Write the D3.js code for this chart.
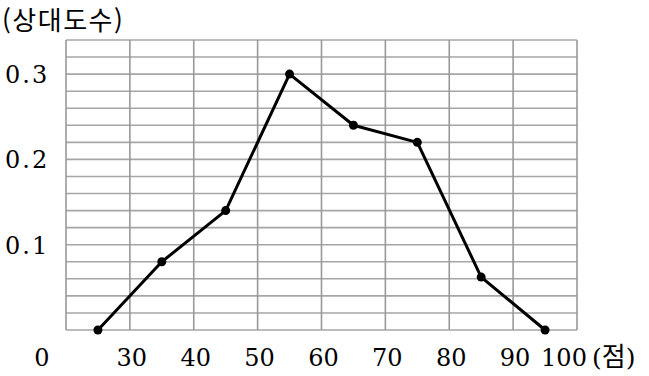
<!DOCTYPE html>
<html lang="ko">
<head>
<meta charset="UTF-8">
<style>
  body { margin: 0; background: #fff; }
</style>
</head>
<body>
<div id="chart"></div>
<script src="https://d3js.org/d3.v7.min.js"></script>
<script>
// class midpoints (score) and relative frequency
var scores = [25, 35, 45, 55, 65, 75, 85, 95];
var freqs = [0, 0.08, 0.14, 0.30, 0.24, 0.22, 0.062, 0];
var xTicks = [30, 40, 50, 60, 70, 80, 90, 100];
var yTicks = [0.1, 0.2, 0.3];

var W = 649, H = 376;
var svg = d3.select("#chart").append("svg")
    .attr("width", W).attr("height", H);

var x = d3.scaleLinear().domain([20, 100]).range([66, 577]);
var y = d3.scaleLinear().domain([0, 0.34]).range([330, 40]);

var serif = "'DejaVu Serif', 'Liberation Serif', serif";

// grid
var grid = svg.append("g");
grid.selectAll("line.h")
    .data(d3.range(0, 0.3401, 0.02))
    .enter().append("line")
    .attr("x1", x(20)).attr("x2", x(100))
    .attr("y1", function (d) { return y(d); })
    .attr("y2", function (d) { return y(d); })
    .attr("stroke", "#a6a6a6").attr("stroke-width", 1.6);
grid.selectAll("line.v")
    .data(d3.range(20, 100.1, 10))
    .enter().append("line")
    .attr("y1", y(0)).attr("y2", y(0.34))
    .attr("x1", function (d) { return x(d); })
    .attr("x2", function (d) { return x(d); })
    .attr("stroke", "#999").attr("stroke-width", 1.6);

// polygon line
var line = d3.line()
    .x(function (d, i) { return x(scores[i]); })
    .y(function (d) { return y(d); });

svg.append("path")
    .datum(freqs)
    .attr("d", line)
    .attr("fill", "none")
    .attr("stroke", "#000")
    .attr("stroke-width", 3)
    .attr("stroke-linejoin", "round");

svg.selectAll("circle")
    .data(freqs).enter()
    .append("circle")
    .attr("cx", function (d, i) { return x(scores[i]); })
    .attr("cy", function (d) { return y(d); })
    .attr("r", 4.5)
    .attr("fill", "#000");

// x labels
svg.selectAll("text.xt")
    .data(xTicks).enter()
    .append("text")
    .attr("x", function (d) { return d === 100 ? x(d) - 13 : x(d) + 2; })
    .attr("y", 366)
    .attr("text-anchor", "middle")
    .style("font-family", serif)
    .style("font-size", "24px")
    .text(function (d) { return d; });

var unit = svg.append("text")
    .attr("x", 592).attr("y", 366)
    .style("font-family", serif)
    .style("font-size", "25px");
unit.append("tspan").text("(");
unit.append("tspan")
    .style("font-family", "'Noto Sans CJK KR'")
    .style("font-size", "26px")
    .text("점");
unit.append("tspan").text(")");

svg.append("text")
    .attr("x", 42).attr("y", 366)
    .attr("text-anchor", "middle")
    .style("font-family", serif)
    .style("font-size", "24px")
    .text("0");

// y labels
svg.selectAll("text.yt")
    .data(yTicks).enter()
    .append("text")
    .attr("x", 5)
    .attr("y", function (d) { return y(d) + 9; })
    .style("font-family", serif)
    .style("font-size", "24px")
    .style("letter-spacing", "2px")
    .text(function (d) { return d3.format(".1f")(d); });

// axis title
svg.append("text")
    .attr("x", 2).attr("y", 30)
    .style("font-family", "'Noto Sans CJK KR'")
    .style("font-size", "26px")
    .style("letter-spacing", "1.5px")
    .text("(상대도수)");
</script>
</body>
</html>
